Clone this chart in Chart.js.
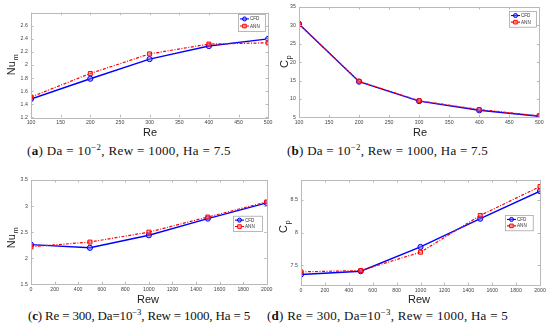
<!DOCTYPE html>
<html>
<head>
<meta charset="utf-8">
<script src="https://cdn.jsdelivr.net/npm/chart.js@4.4.1/dist/chart.umd.min.js"></script>
<style>
  body { margin: 0; background: #fff; width: 550px; height: 333px; overflow: hidden; position: relative; }
  canvas { position: absolute; }
  .cap { position: absolute; white-space: nowrap; color: #111; font-family: "Liberation Serif", "Times New Roman", serif; font-size: 13px; line-height: 15px; }
  .cap sup { font-size: 8.8px; vertical-align: 5px; line-height: 0; }
</style>
</head>
<body>
<canvas id="chartA" width="275" height="140" style="left:0;top:0"></canvas>
<canvas id="chartB" width="275" height="140" style="left:275px;top:0"></canvas>
<canvas id="chartC" width="275" height="140" style="left:0;top:165px"></canvas>
<canvas id="chartD" width="275" height="140" style="left:275px;top:165px"></canvas>

<div class="cap" data-w="204" style="left:27px;top:143px">(<b>a</b>) Da = 10<sup>−2</sup>, Rew = 1000, Ha = 7.5</div>
<div class="cap" data-w="201" style="left:287px;top:143px">(<b>b</b>) Da = 10<sup>−2</sup>, Rew = 1000, Ha = 7.5</div>
<div class="cap" data-w="222" style="left:28px;top:308px">(<b>c</b>) Re = 300, Da=10<sup>−3</sup>, Rew = 1000, Ha = 5</div>
<div class="cap" data-w="241" style="left:267px;top:308px">(<b>d</b>) Re = 300, Da=10<sup>−3</sup>, Rew = 1000, Ha = 5</div>

<script>
// x values
const reValues = [100, 200, 300, 400, 500];
const rewValues = [0, 500, 1000, 1500, 2000];

// (a) Nu_m vs Re
const nuCfdRe = [1.48, 1.79, 2.09, 2.29, 2.40];
const nuAnnRe = [1.51, 1.87, 2.17, 2.32, 2.34];
// (b) Cp vs Re
const cpCfdRe = [30.4, 14.7, 9.4, 6.9, 5.3];
const cpAnnRe = [30.3, 14.8, 9.5, 7.1, 5.4];
// (c) Nu_m vs Rew
const nuCfdRew = [2.26, 2.20, 2.44, 2.76, 3.06];
const nuAnnRew = [2.22, 2.31, 2.50, 2.79, 3.08];
// (d) Cp vs Rew
const cpCfdRew = [7.36, 7.41, 7.78, 8.21, 8.63];
const cpAnnRew = [7.40, 7.42, 7.70, 8.26, 8.70];

// tick labels
const reTicks = [100, 150, 200, 250, 300, 350, 400, 450, 500];
const rewTicks = [0, 200, 400, 600, 800, 1000, 1200, 1400, 1600, 1800, 2000];
const nuReTicks = [1.2, 1.4, 1.6, 1.8, 2, 2.2, 2.4, 2.6];
const cpReTicks = [5, 10, 15, 20, 25, 30, 35];
const nuRewTicks = [1.5, 2, 2.5, 3, 3.5];
const cpRewTicks = [7.5, 8, 8.5];

const SANS = '"Liberation Sans", Arial, sans-serif';
const FRAME = '#b9b9b9';

// frame, inner ticks, axis titles and legend
const decorPlugin = {
  id: 'decor',
  afterDraw(chart, args, opts) {
    const ctx = chart.ctx;
    const a = chart.chartArea;
    const sx = chart.scales.x, sy = chart.scales.y;
    ctx.save();
    ctx.strokeStyle = FRAME;
    ctx.lineWidth = 1;
    ctx.strokeRect(Math.round(a.left) + 0.5, Math.round(a.top) + 0.5,
      Math.round(a.right - a.left), Math.round(a.bottom - a.top));
    ctx.beginPath();
    sx.ticks.forEach(t => {
      const px = Math.round(sx.getPixelForValue(t.value)) + 0.5;
      ctx.moveTo(px, a.bottom); ctx.lineTo(px, a.bottom - 2.5);
      ctx.moveTo(px, a.top); ctx.lineTo(px, a.top + 2.5);
    });
    sy.ticks.forEach(t => {
      const py = Math.round(sy.getPixelForValue(t.value)) + 0.5;
      ctx.moveTo(a.left, py); ctx.lineTo(a.left + 2.5, py);
      ctx.moveTo(a.right, py); ctx.lineTo(a.right - 2.5, py);
    });
    ctx.stroke();

    // x title
    ctx.fillStyle = '#222';
    ctx.font = '11px ' + SANS;
    ctx.textAlign = 'center';
    ctx.textBaseline = 'middle';
    ctx.fillText(opts.xTitle, opts.xTitlePos[0], opts.xTitlePos[1]);

    // y title with subscript
    ctx.save();
    ctx.translate(opts.yTitlePos[0], opts.yTitlePos[1]);
    ctx.rotate(-Math.PI / 2);
    ctx.textBaseline = 'alphabetic';
    ctx.font = '11px ' + SANS;
    const mainW = ctx.measureText(opts.yTitle).width;
    ctx.font = '7.5px ' + SANS;
    const subW = ctx.measureText(opts.ySub).width;
    const start = -(mainW + subW) / 2;
    ctx.textAlign = 'left';
    ctx.font = '11px ' + SANS;
    ctx.fillText(opts.yTitle, start, 0);
    ctx.font = '7.5px ' + SANS;
    ctx.fillText(opts.ySub, start + mainW + 0.5, 2.5);
    ctx.restore();

    // legend
    const [lx, ly, lw, lh] = opts.legend;
    ctx.fillStyle = '#fff';
    ctx.fillRect(lx, ly, lw, lh);
    ctx.strokeStyle = '#9a9a9a';
    ctx.lineWidth = 0.7;
    ctx.strokeRect(lx + 0.5, ly + 0.5, lw, lh);
    chart.data.datasets.forEach((ds, i) => {
      const ry = ly + lh * (i === 0 ? 0.29 : 0.71);
      ctx.strokeStyle = ds.borderColor;
      ctx.lineWidth = 1.1;
      ctx.setLineDash(ds.borderDash || []);
      ctx.beginPath();
      ctx.moveTo(lx + 2, ry); ctx.lineTo(lx + 11, ry);
      ctx.stroke();
      ctx.setLineDash([]);
      ctx.fillStyle = ds.pointBackgroundColor;
      ctx.lineWidth = 1;
      ctx.beginPath();
      if (ds.pointStyle === 'rect') {
        ctx.rect(lx + 6.5 - 1.8, ry - 1.8, 3.6, 3.6);
      } else {
        ctx.arc(lx + 6.5, ry, 2, 0, Math.PI * 2);
      }
      ctx.fill(); ctx.stroke();
      ctx.fillStyle = '#333';
      ctx.font = '4.6px ' + SANS;
      ctx.textAlign = 'left';
      ctx.textBaseline = 'middle';
      ctx.fillText(ds.label, lx + 12, ry + 0.3);
    });
    ctx.restore();
  }
};

function makeChart(id, p) {
  const H = 140;
  const noGrid = { display: false, drawTicks: false, tickLength: 0 };
  return new Chart(document.getElementById(id), {
    type: 'line',
    data: {
      datasets: [
        {
          label: 'CFD',
          data: p.x.map((x, i) => ({ x: x, y: p.cfd[i] })),
          borderColor: '#0000ff',
          borderWidth: 1.4,
          pointStyle: 'circle',
          pointRadius: 2.6,
          pointBorderWidth: 1,
          pointBorderColor: '#0000ff',
          pointBackgroundColor: 'rgba(110,110,255,0.55)',
          tension: 0,
          order: 1
        },
        {
          label: 'ANN',
          data: p.x.map((x, i) => ({ x: x, y: p.ann[i] })),
          borderColor: '#ff0000',
          borderWidth: 1.2,
          borderDash: [3, 1.5, 1, 1.5],
          pointStyle: 'rect',
          pointRadius: 2.8,
          pointBorderWidth: 1,
          pointBorderColor: '#ff0000',
          pointBackgroundColor: 'rgba(255,110,110,0.5)',
          tension: 0,
          order: 0
        }
      ]
    },
    options: {
      responsive: false,
      animation: false,
      devicePixelRatio: 1,
      layout: { padding: { top: p.area[1], right: 275 - p.area[2], left: 0, bottom: 0 } },
      plugins: {
        legend: { display: false },
        tooltip: { enabled: false },
        decor: {
          xTitle: p.xTitle, xTitlePos: p.xTitlePos,
          yTitle: p.yTitle, ySub: p.ySub, yTitlePos: p.yTitlePos,
          legend: p.legend
        }
      },
      scales: {
        x: {
          type: 'linear',
          min: p.x[0], max: p.x[p.x.length - 1],
          grid: noGrid,
          border: { display: false },
          afterBuildTicks: s => { s.ticks = p.xTicks.map(v => ({ value: v })); },
          afterFit: s => { s.height = H - p.area[3]; },
          ticks: {
            font: { family: SANS, size: 5.2 }, color: '#444', padding: 2.5,
            maxRotation: 0, autoSkip: false, callback: v => String(v)
          }
        },
        y: {
          type: 'linear',
          min: p.yRange[0], max: p.yRange[1],
          grid: noGrid,
          border: { display: false },
          afterBuildTicks: s => { s.ticks = p.yTicks.map(v => ({ value: v })); },
          afterFit: s => { s.width = p.area[0]; },
          ticks: {
            font: { family: SANS, size: 5.2 }, color: '#444', padding: 3.2,
            autoSkip: false, callback: v => String(+Number(v).toFixed(2))
          }
        }
      }
    },
    plugins: [decorPlugin]
  });
}

makeChart('chartA', {
  x: reValues, cfd: nuCfdRe, ann: nuAnnRe,
  xTicks: reTicks, yTicks: nuReTicks, yRange: [1.2, 2.8],
  area: [31, 12.7, 269, 117.3],
  xTitle: 'Re', xTitlePos: [150, 133],
  yTitle: 'Nu', ySub: 'm', yTitlePos: [15, 65],
  legend: [238, 14, 27, 17]
});
makeChart('chartB', {
  x: reValues, cfd: cpCfdRe, ann: cpAnnRe,
  xTicks: reTicks, yTicks: cpReTicks, yRange: [5, 35],
  area: [24, 7, 264.3, 117.3],
  xTitle: 'Re', xTitlePos: [145, 133],
  yTitle: 'C', ySub: 'p', yTitlePos: [13, 62],
  legend: [234, 11, 27, 15.7]
});
makeChart('chartC', {
  x: rewValues, cfd: nuCfdRew, ann: nuAnnRew,
  xTicks: rewTicks, yTicks: nuRewTicks, yRange: [1.5, 3.5],
  area: [31, 15, 267, 119.3],
  xTitle: 'Rew', xTitlePos: [148, 135],
  yTitle: 'Nu', ySub: 'm', yTitlePos: [15, 73],
  legend: [233, 50.7, 29, 15.3]
});
makeChart('chartD', {
  x: rewValues, cfd: cpCfdRew, ann: cpAnnRew,
  xTicks: rewTicks, yTicks: cpRewTicks, yRange: [7.2, 8.8],
  area: [26, 15, 265, 120],
  xTitle: 'Rew', xTitlePos: [144, 135],
  yTitle: 'C', ySub: 'p', yTitlePos: [12, 62],
  legend: [230, 50, 27.7, 15.3]
});

// spread each caption's letters to the width it has in the figure
document.querySelectorAll('.cap').forEach(el => {
  const target = Number(el.dataset.w);
  const n = el.textContent.length;
  const w = el.getBoundingClientRect().width;
  el.style.letterSpacing = ((target - w) / n).toFixed(3) + 'px';
});
</script>
</body>
</html>
